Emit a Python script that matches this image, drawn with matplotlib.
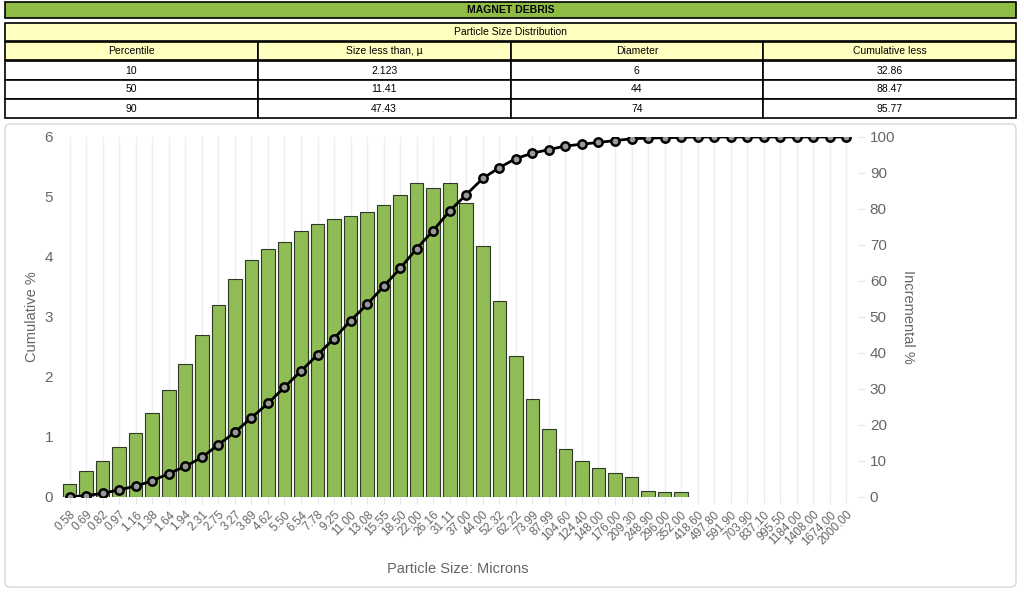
import matplotlib.pyplot as plt
import numpy as np
from matplotlib.patches import FancyBboxPatch

sizes = ["0.58", "0.69", "0.82", "0.97", "1.16", "1.38", "1.64", "1.94", "2.31", "2.75",
         "3.27", "3.89", "4.62", "5.50", "6.54", "7.78", "9.25", "11.00", "13.08", "15.55",
         "18.50", "22.00", "26.16", "31.11", "37.00", "44.00", "52.32", "62.22", "73.99", "87.99",
         "104.60", "124.40", "148.00", "176.00", "209.30", "248.90", "296.00", "352.00", "418.60",
         "497.80", "591.90", "703.90", "837.10", "995.50", "1184.00", "1408.00", "1674.00", "2000.00"]
incremental = [0.22, 0.43, 0.60, 0.83, 1.07, 1.40, 1.78, 2.22, 2.70, 3.20,
               3.63, 3.95, 4.14, 4.25, 4.43, 4.55, 4.64, 4.69, 4.75, 4.87,
               5.03, 5.23, 5.15, 5.23, 4.90, 4.19, 3.27, 2.35, 1.63, 1.13,
               0.80, 0.60, 0.48, 0.40, 0.34, 0.10, 0.08, 0.08]
cumulative = [0, 0.4, 1, 2, 3, 4.5, 6.5, 8.5, 11, 14.5,
              18, 22, 26, 30.5, 35, 39.5, 44, 49, 53.5, 58.5,
              63.5, 69, 74, 79.5, 84, 88.5, 91.5, 94, 95.5, 96.5,
              97.5, 98, 98.5, 99, 99.5, 99.7, 99.8, 99.9, 100, 100,
              100, 100, 100, 100, 100, 100, 100, 100]
table_header = ["Percentile", "Size less than, µ", "Diameter", "Cumulative less"]
table_rows = [["10", "2.123", "6", "32.86"],
              ["50", "11.41", "44", "88.47"],
              ["90", "47.43", "74", "95.77"]]

W, H = 1024, 603
fig = plt.figure(figsize=(W / 100, H / 100), dpi=100)
plt.rcParams['font.family'] = ['Liberation Sans', 'DejaVu Sans']


def fx(px):
    return px / W


def fy(py):
    return 1 - py / H


# header table
top = fig.add_axes([0, 0, 1, 1])
top.set_xlim(0, W)
top.set_ylim(H, 0)
top.axis("off")
x0, x1 = 5, 1016
top.add_patch(plt.Rectangle((x0, 2), x1 - x0, 16, fc="#8fbc45", ec="black", lw=1.2))
top.text((x0 + x1) / 2, 10, "MAGNET DEBRIS", ha="center", va="center", fontsize=7.5, fontweight="bold")
top.add_patch(plt.Rectangle((x0, 23), x1 - x0, 18, fc="#ffffc0", ec="black", lw=1.2))
top.text((x0 + x1) / 2, 32, "Particle Size Distribution", ha="center", va="center", fontsize=7.5)
cw = (x1 - x0) / 4
rh = 19
for r, row in enumerate([table_header] + table_rows):
    y = 42 + r * rh
    for c, val in enumerate(row):
        top.add_patch(plt.Rectangle((x0 + c * cw, y), cw, rh - 1 if r == 0 else rh,
                                    fc="#ffffc0" if r == 0 else "white", ec="black", lw=1.2))
        top.text(x0 + c * cw + cw / 2, y + rh / 2, val, ha="center", va="center", fontsize=7.5)

top.add_patch(FancyBboxPatch((5, 124), 1011, 463, boxstyle="round,pad=0,rounding_size=5",
                             fc="white", ec="#d8d8d8", lw=1))

# chart
ax = fig.add_axes([fx(58), fy(497), fx(858 - 58), fy(137) - fy(497)])
x = np.arange(len(sizes))
ax.bar(x[:len(incremental)], incremental, width=0.82, color="#8fbc55", edgecolor="#2f3a25", lw=0.8, zorder=2)
ax.set_xlim(-0.7, len(sizes) - 0.3)
ax.set_ylim(0, 6)
ax.set_xticks(x)
ax.set_xticklabels(sizes, rotation=45, ha="right", rotation_mode="anchor", fontsize=8.5, color="#666666")
ax.set_yticks(range(7))
ax.tick_params(axis="y", labelsize=11, colors="#666666", length=0)
ax.tick_params(axis="x", length=5, color="#e6e6e6")
ax.grid(axis="x", color="#eeeeee", lw=1, zorder=0)
for s in ax.spines.values():
    s.set_visible(False)
ax.set_ylabel("Cumulative %", fontsize=10.5, color="#666666")
ax.set_xlabel("Particle Size: Microns", fontsize=10.5, color="#666666", labelpad=10)

ax2 = ax.twinx()
ax2.plot(x, cumulative, color="black", lw=2, marker="o", ms=6, mfc="#999999", mec="black", mew=1.8, zorder=3)
ax2.set_ylim(0, 100)
ax2.set_yticks(range(0, 101, 10))
ax2.tick_params(axis="y", labelsize=11, colors="#666666", length=5, color="#e6e6e6")
for s in ax2.spines.values():
    s.set_visible(False)
ax2.set_ylabel("Incremental %", fontsize=10.5, color="#666666", rotation=270, labelpad=14)

fig.savefig("out.png", dpi=100)
